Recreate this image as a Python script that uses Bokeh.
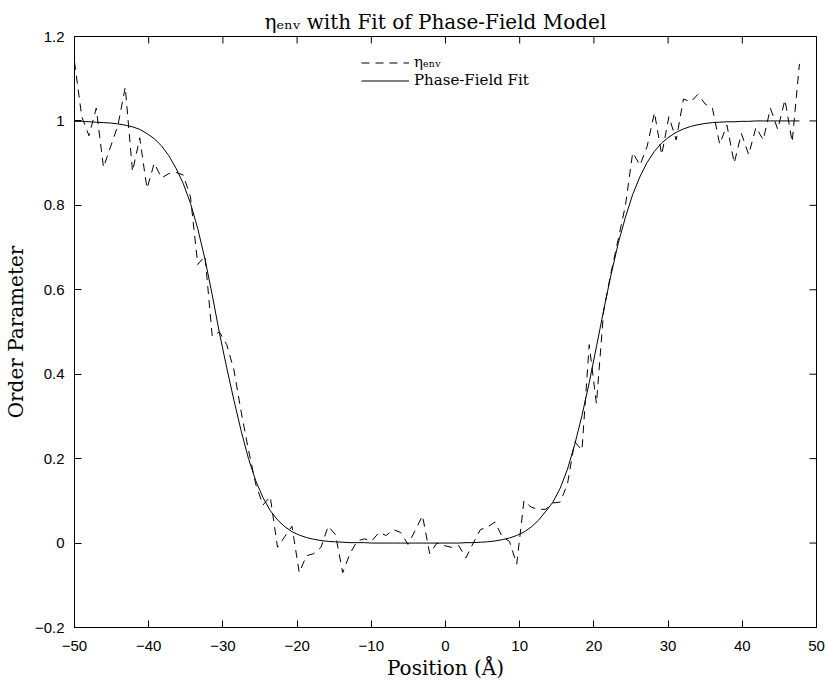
import math
from bokeh.plotting import figure
from bokeh.models import Range1d, FixedTicker, Legend, LegendItem, Title
from bokeh.embed import file_html
from bokeh.resources import INLINE

# positions (Angstrom) of the sampled profile
pos = [-50.00, -49.02, -48.05, -47.07, -46.09, -45.12, -44.14, -43.16, -42.18, -41.21,
       -40.23, -39.25, -38.28, -37.30, -36.32, -35.35, -34.37, -33.39, -32.41, -31.44,
       -30.46, -29.48, -28.51, -27.53, -26.55, -25.58, -24.60, -23.62, -22.64, -21.67,
       -20.69, -19.71, -18.74, -17.76, -16.78, -15.81, -14.83, -13.85, -12.87, -11.90,
       -10.92, -9.94, -8.97, -7.99, -7.01, -6.04, -5.06, -4.08, -3.10, -2.13,
       -1.15, -0.17, 0.80, 1.78, 2.76, 3.74, 4.71, 5.69, 6.67, 7.64,
       8.62, 9.60, 10.57, 11.55, 12.53, 13.51, 14.48, 15.46, 16.44, 17.41,
       18.39, 19.37, 20.34, 21.32, 22.30, 23.28, 24.25, 25.23, 26.21, 27.18,
       28.16, 29.14, 30.11, 31.09, 32.07, 33.05, 34.02, 35.00, 35.98, 36.95,
       37.93, 38.91, 39.88, 40.86, 41.84, 42.82, 43.79, 44.77, 45.75, 46.72, 47.70]

# measured order parameter eta_env
eta_env = [1.14, 1.01, 0.965, 1.03, 0.89, 0.94, 0.99, 1.08, 0.88, 0.96,
           0.84, 0.90, 0.865, 0.875, 0.878, 0.872, 0.82, 0.66, 0.68, 0.49,
           0.50, 0.47, 0.41, 0.31, 0.22, 0.14, 0.09, 0.11, -0.01, 0.015,
           0.04, -0.07, -0.03, -0.025, -0.01, 0.04, 0.02, -0.07, -0.025, 0.005,
           0.01, 0.005, 0.025, 0.018, 0.032, 0.025, -0.003, 0.03, 0.065, -0.025,
           0.0, -0.006, -0.01, -0.006, -0.035, 0.0, 0.032, 0.038, 0.05, 0.015,
           0.004, -0.05, 0.10, 0.085, 0.08, 0.08, 0.095, 0.097, 0.14, 0.24,
           0.22, 0.47, 0.33, 0.55, 0.64, 0.72, 0.80, 0.925, 0.895, 0.94,
           1.02, 0.92, 1.01, 0.955, 1.052, 1.045, 1.063, 1.04, 1.03, 0.945,
           0.99, 0.90, 0.97, 0.92, 0.985, 0.955, 1.03, 0.98, 1.05, 0.95, 1.135]

# phase-field fit curve
phase_fit = [0.999, 0.999, 0.998, 0.997, 0.996, 0.995, 0.993, 0.990, 0.986, 0.980,
             0.970, 0.958, 0.941, 0.918, 0.888, 0.852, 0.805, 0.745, 0.672, 0.588,
             0.497, 0.415, 0.338, 0.265, 0.200, 0.148, 0.108, 0.077, 0.055, 0.039,
             0.027, 0.019, 0.013, 0.009, 0.006, 0.004, 0.003, 0.002, 0.001, 0.001,
             0.001, 0.0, 0.0, 0.0, 0.0, 0.0, 0.0, 0.0, 0.0, 0.0,
             0.0, 0.0, 0.0, 0.0, 0.001, 0.001, 0.002, 0.003, 0.005, 0.008,
             0.012, 0.018, 0.026, 0.038, 0.054, 0.075, 0.097, 0.130, 0.175, 0.233,
             0.302, 0.380, 0.465, 0.552, 0.635, 0.710, 0.772, 0.826, 0.868, 0.902,
             0.928, 0.948, 0.962, 0.973, 0.981, 0.987, 0.991, 0.994, 0.996, 0.997,
             0.998, 0.998, 0.999, 0.999, 1.0, 1.0, 1.0, 1.0, 1.0, 1.0, 1.0]

x_ticks = [-50, -40, -30, -20, -10, 0, 10, 20, 30, 40, 50]
x_tick_labels = ["\u221250", "\u221240", "\u221230", "\u221220", "\u221210", "0",
                 "10", "20", "30", "40", "50"]
y_ticks = [-0.2, 0, 0.2, 0.4, 0.6, 0.8, 1, 1.2]
y_tick_labels = ["\u22120.2", "0", "0.2", "0.4", "0.6", "0.8", "1", "1.2"]

title_text = "\u03b7\u2091\u2099\u1d65 with Fit of Phase-Field Model"
x_label = "Position (\u00c5)"
y_label = "Order Parameter"
legend_labels = ["\u03b7\u2091\u2099\u1d65", "Phase-Field Fit"]

SERIF = "DejaVu Serif"
SANS = "Liberation Sans"
X0, X1, Y0, Y1 = -50, 50, -0.2, 1.2

p = figure(frame_width=742, frame_height=591,
           x_range=Range1d(X0, X1), y_range=Range1d(Y0, Y1),
           output_backend="svg", toolbar_location=None,
           min_border_left=0, min_border_right=9, min_border_top=0, min_border_bottom=0)
p.background_fill_color = "white"
p.border_fill_color = "white"
p.outline_line_color = "black"
p.outline_line_width = 1
p.xgrid.visible = False
p.ygrid.visible = False

# main title plus a thin spacer above it
p.add_layout(Title(text=title_text, text_font=SERIF, text_font_size="20px",
                   text_font_style="normal", text_color="black", align="left",
                   standoff=5, offset=190), "above")
p.add_layout(Title(text=" ", text_font_size="3px", standoff=0), "above")

# x-axis label as a title below the axis
p.add_layout(Title(text=x_label, text_font=SERIF, text_font_size="20px",
                   text_font_style="normal", text_color="black", align="center",
                   standoff=0, text_line_height=0.8), "below")


def style_axis(ax, ticks, labels, standoff):
    ax.ticker = FixedTicker(ticks=ticks)
    ax.major_label_overrides = {t: l for t, l in zip(ticks, labels)}
    ax.major_tick_in = 7
    ax.major_tick_out = 0
    ax.minor_tick_in = 0
    ax.minor_tick_out = 0
    ax.axis_line_color = "black"
    ax.major_tick_line_color = "black"
    ax.major_label_text_color = "black"
    ax.major_label_text_font = SANS
    ax.major_label_text_font_size = "15px"
    ax.major_label_standoff = standoff
    ax.axis_label_text_font = SERIF
    ax.axis_label_text_font_size = "20px"
    ax.axis_label_text_font_style = "normal"
    ax.axis_label_text_color = "black"


xa = p.xaxis[0]
ya = p.yaxis[0]
style_axis(xa, x_ticks, x_tick_labels, 13)
style_axis(ya, y_ticks, y_tick_labels, 10)
ya.axis_label = y_label
ya.axis_label_standoff = 4

# inward ticks on the top and right edges of the box (half of each marker is clipped)
p.scatter(x=x_ticks, y=[Y1] * len(x_ticks), marker="dash", angle=math.pi / 2,
          size=14, line_color="black", line_width=1)
p.scatter(x=[X1] * len(y_ticks), y=y_ticks, marker="dash",
          size=14, line_color="black", line_width=1)

r_data = p.line(pos, eta_env, line_color="black", line_width=1, line_dash="8 6")
r_fit = p.line(pos, phase_fit, line_color="black", line_width=1)

legend = Legend(items=[LegendItem(label=legend_labels[0], renderers=[r_data]),
                       LegendItem(label=legend_labels[1], renderers=[r_fit])],
                location=(287, 538))
legend.border_line_color = None
legend.background_fill_alpha = 0
legend.padding = 0
legend.margin = 0
legend.spacing = 0
legend.label_height = 17
legend.glyph_height = 17
legend.glyph_width = 48
legend.label_standoff = 5
legend.label_text_font = SERIF
legend.label_text_font_size = "15px"
legend.label_text_color = "black"
p.add_layout(legend)

open("out.html", "w").write(file_html(p, INLINE))
